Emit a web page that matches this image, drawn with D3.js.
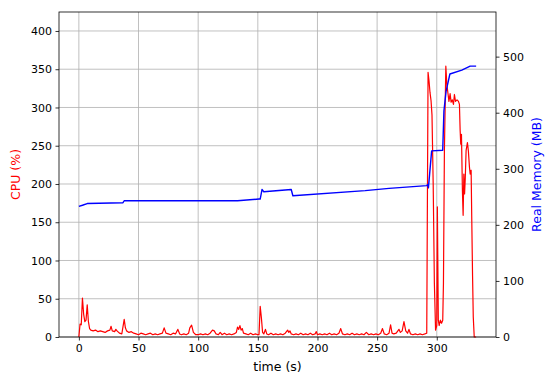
<!DOCTYPE html>
<html><head><meta charset="utf-8">
<script src="https://cdn.jsdelivr.net/npm/d3@7"></script>
<style>body{margin:0;background:#fff}svg{display:block}text{font-family:"DejaVu Sans",sans-serif}</style>
</head><body><svg id="c" width="545" height="374"></svg>
<script>
const cpuTime = [0,1,2,3,4,5,6,7,8,9,10,12,14,16,18,20,22,24,26,27,28,30,31,32,34,36,38,39,40,42,44,46,48,50,52,54,56,58,60,62,64,66,68,70,71.5,73,75,77,79,81,83,84.5,86,88,90,92,93,94.5,96,98,100,102,104,106,108,110,112,113.5,115,117,118.5,120,122,124,126,128,130,132,133,134,135,136,137,138,140,142,144,146,148,150,151,152,153,154,155,156.4,157.5,159,161,163,165,167,169,171,173,175,176,177,178,180,182,184,186,188,190,192,194,196,198,199,200,202,204,206,208,210,212,214,216,218,219.5,221,223,225,227,229,231,233,235,237,239,241,243,245,247,249,251,253,254.5,256,258,260,261.3,262.5,264,266,268.3,269.5,271,272.5,274,275.5,276.7,278,280,282,284,286,288,290,291.6,292.7,293.5,294.3,295.2,296,297,298,299,300,300.5,301.3,302,303,304,305,305.6,306.4,307.6,308.4,309.5,310.2,311.2,312,313,314,314.8,315.7,317,318.2,319,319.6,320.1,320.7,321.5,322.1,322.7,323.3,323.9,324.6,325.7,326.5,327.4,328,328.8,329.3,330,330.6,331.4,333];
const cpuValue = [0,17,16,51,30,20,22,42,20,11,9,8,9,7,8,7,6,8,9,14,8,7,10,8,5,4,23,12,8,6,7,5,4,3,5,4,3,4,5,3,4,3,4,5,12,5,4,3,5,4,10,4,3,4,3,5,12,15.5,6,3,3,4,3,4,3,5,9,8,4,3,6,3,5,3,4,3,4,6,13,10,14.8,9,11,5,4,3,5,3,4,3,3,40,25,6,4,10,4,3,5,3,4,3,4,3,5,9,6,8,4,3,4,3,5,3,4,3,5,3,4,7,3,4,3,4,3,5,3,4,3,5,11,4,3,4,3,5,3,4,3,4,3,6,3,4,3,4,3,5,11,4,3,5,16,5,4,5,10,6,8,20,8,5,10,4,3,4,3,4,3,4,5,346,335,320,309,290,200,70,9,15,170,22,15,22,18,22,70,244,354,331,317,308,318,307,310,304,317,308,310,308,304,270,252,265,191,159,213,187,208,244,254,243,222,213,218,158,80,26,0,0];
const memTime = [0,3,7,37,38,133,151,152,153.5,155,178,179.4,240,260,291.6,292.5,293,295.7,305,306,307.8,311,321,328,333];
const memValue = [233,235,238,239.5,243,243,246,246,263,259,263,252,261,265,270,272,266,332,333,403,438,469,476,483,483];
const xTicks = [0,50,100,150,200,250,300];
const cpuTicks = [0,50,100,150,200,250,300,350,400];
const memTicks = [0,100,200,300,400,500];

const svg = d3.select("#c");
const L=59, R=496, T=12, B=337;
const tMax = d3.max(cpuTime.concat(memTime));
const pad = tMax*0.05;
const x = d3.scaleLinear().domain([-pad, tMax+pad]).range([L,R]);
const yC = d3.scaleLinear().domain([0, d3.max(cpuValue)*1.2]).range([B,T]);
const yM = d3.scaleLinear().domain([0, d3.max(memValue)*1.2]).range([B,T]);

// grid
const grid = svg.append("g").attr("stroke","#b0b0b0").attr("stroke-width",0.8);
xTicks.forEach(v=>grid.append("line").attr("x1",x(v)).attr("x2",x(v)).attr("y1",T).attr("y2",B));
cpuTicks.forEach(v=>grid.append("line").attr("x1",L).attr("x2",R).attr("y1",yC(v)).attr("y2",yC(v)));

// lines
const cpuData = cpuTime.map((t,i)=>[t,cpuValue[i]]);
const memData = memTime.map((t,i)=>[t,memValue[i]]);
svg.append("path").datum(cpuData).attr("fill","none").attr("stroke","#ff0000").attr("stroke-width",1.2).attr("stroke-linejoin","round")
  .attr("d",d3.line().x(d=>x(d[0])).y(d=>yC(d[1])));
svg.append("path").datum(memData).attr("fill","none").attr("stroke","#0000ff").attr("stroke-width",1.4).attr("stroke-linejoin","round")
  .attr("d",d3.line().x(d=>x(d[0])).y(d=>yM(d[1])));

// axes
const fs = 11;
const ax = svg.append("g").attr("transform",`translate(0,${B})`).call(d3.axisBottom(x).tickValues(xTicks).tickSize(3.5).tickPadding(3.5).tickFormat(d3.format("d")));
const ay = svg.append("g").attr("transform",`translate(${L},0)`).call(d3.axisLeft(yC).tickValues(cpuTicks).tickSize(3.5).tickPadding(3.5).tickFormat(d3.format("d")));
const ar = svg.append("g").attr("transform",`translate(${R},0)`).call(d3.axisRight(yM).tickValues(memTicks).tickSize(3.5).tickPadding(3.5).tickFormat(d3.format("d")));
[ax,ay,ar].forEach(g=>{g.select(".domain").remove();g.selectAll("text").attr("font-size",fs).attr("font-family","DejaVu Sans").attr("fill","#000");g.selectAll("line").attr("stroke","#000").attr("stroke-width",0.8);});
svg.append("rect").attr("x",L).attr("y",T).attr("width",R-L).attr("height",B-T).attr("fill","none").attr("stroke","#000").attr("stroke-width",0.8);

const ls = 12.5;
svg.append("text").attr("x",(L+R)/2).attr("y",371).attr("text-anchor","middle").attr("font-size",ls).text("time (s)");
svg.append("text").attr("transform",`translate(20,${(T+B)/2}) rotate(-90)`).attr("text-anchor","middle").attr("font-size",ls).attr("fill","#ff0000").text("CPU (%)");
svg.append("text").attr("transform",`translate(541,${(T+B)/2}) rotate(-90)`).attr("text-anchor","middle").attr("font-size",ls).attr("fill","#0000ff").text("Real Memory (MB)");
</script></body></html>
